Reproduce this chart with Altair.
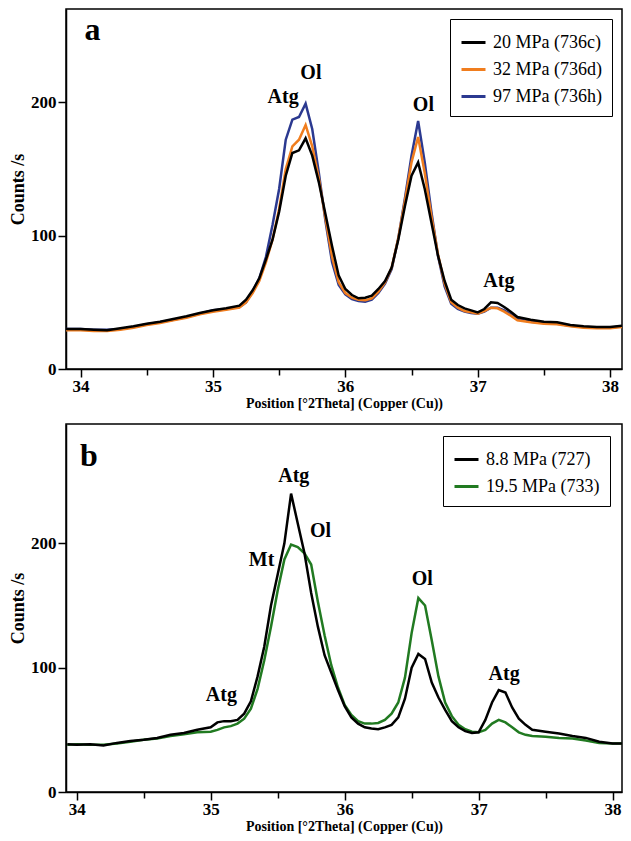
import altair as alt
import pandas as pd

# ---------------- Panel a data ----------------
x_a = [33.89, 34.0, 34.1, 34.2, 34.3, 34.4, 34.5, 34.6, 34.7, 34.8, 34.9, 35.0, 35.1, 35.2,
       35.25, 35.3, 35.35, 35.4, 35.45, 35.5, 35.55, 35.6, 35.65, 35.7, 35.75, 35.8, 35.85,
       35.9, 35.95, 36.0, 36.05, 36.1, 36.15, 36.2, 36.25, 36.3, 36.35, 36.4, 36.45, 36.5,
       36.55, 36.6, 36.65, 36.7, 36.75, 36.8, 36.85, 36.9, 36.95, 37.0, 37.05, 37.1, 37.15,
       37.2, 37.25, 37.3, 37.4, 37.5, 37.6, 37.7, 37.8, 37.9, 38.0, 38.09]
black_a = [30, 30, 29.5, 29, 30.5, 32, 34, 35.5, 37.5, 39.5, 42, 44, 45.5, 47.5,
           52, 59, 68, 82, 97, 118, 145, 162, 164, 173, 160, 140, 116,
           92, 70, 60, 55.5, 53, 53.5, 55, 60, 66, 76, 97, 122, 145,
           155, 135, 110, 85, 66, 52, 48, 45.5, 44, 42.5, 45, 50, 49.5,
           46.5, 43, 39, 37, 35.5, 35, 33, 32, 31.5, 31.5, 32.5]
orange_a = [29, 29, 28.5, 28.5, 29.5, 31, 33, 34.5, 36.5, 38.5, 41, 43, 44.5, 46,
            50, 57, 66, 80, 97, 120, 150, 167, 172, 183, 167, 143, 113,
            84, 65, 57, 53.5, 52, 51.5, 53, 58, 65, 76, 98, 126, 155,
            174, 147, 115, 86, 64, 50, 46, 43.5, 42.5, 41.5, 43.5, 46, 45.5,
            43, 40, 36.5, 35, 34, 33.5, 32, 31, 30.5, 30.5, 31.5]
blue_a = [30, 30, 29.5, 29.5, 30, 31.5, 33.5, 35, 37, 39, 41.5, 44, 45, 46.5,
          50, 58, 68, 84, 108, 135, 172, 187, 189, 199, 180, 147, 111,
          80, 63, 56, 52.5, 51, 50.5, 52, 57, 64, 75, 98, 128, 160,
          186, 155, 118, 85, 62, 49, 45, 43, 42, 41.5, 43, 46, 46,
          44, 41, 37.5, 35.5, 34.5, 34, 32.5, 31.5, 31, 31, 32]

series_a = ["20 MPa (736c)", "32 MPa (736d)", "97 MPa (736h)"]
colors_a = ["#000000", "#F07D1E", "#2B3990"]

ann_a_text = ["Atg", "Ol", "Ol", "Atg"]
ann_a_x = [35.53, 35.74, 36.59, 37.16]
ann_a_y = [204, 222, 198, 66]

# ---------------- Panel b data ----------------
x_b = [33.93, 34.0, 34.1, 34.2, 34.3, 34.4, 34.5, 34.6, 34.7, 34.8, 34.9, 35.0, 35.05, 35.1,
       35.15, 35.2, 35.25, 35.3, 35.35, 35.4, 35.45, 35.5, 35.55, 35.6, 35.65, 35.7, 35.75,
       35.8, 35.85, 35.9, 35.95, 36.0, 36.05, 36.1, 36.15, 36.2, 36.25, 36.3, 36.35, 36.4,
       36.45, 36.5, 36.55, 36.6, 36.65, 36.7, 36.75, 36.8, 36.85, 36.9, 36.95, 37.0, 37.05,
       37.1, 37.15, 37.2, 37.25, 37.3, 37.35, 37.4, 37.5, 37.6, 37.7, 37.8, 37.9, 38.0, 38.07]
black_b = [38.5, 38, 38.5, 37.5, 39.5, 41, 42, 43.5, 46, 47.5, 50, 52, 56, 57,
           57, 58, 63, 73, 93, 117, 150, 175, 200, 240, 216, 192, 160,
           133, 110, 96, 82, 69, 60, 55, 52, 51, 50.5, 52, 54, 60,
           75, 100, 111, 107, 88, 76, 66, 57, 52, 49, 47.5, 48, 58,
           72, 82, 80, 68, 59, 54, 50, 48.5, 47, 45, 43.5, 40.5, 39, 39]
green_b = [38, 38.5, 38, 38, 39, 40.5, 42, 43, 45, 46.5, 48, 48.5, 50, 52,
           53, 55, 59, 67, 83, 106, 133, 162, 187, 199, 197, 192, 183,
           153, 126, 102, 84, 70, 62, 57, 55, 55, 55.5, 58, 63, 72,
           92, 128, 156, 150, 122, 93, 72, 61, 54, 50.5, 48.5, 48, 50,
           55, 58, 56, 52, 48, 46, 45, 44.5, 43.5, 43, 41.5, 39.5, 39, 39]

series_b = ["8.8 MPa (727)", "19.5 MPa (733)"]
colors_b = ["#000000", "#217A21"]

ann_b_text = ["Atg", "Ol", "Mt", "Ol", "Atg", "Atg"]
ann_b_x = [35.62, 35.82, 35.38, 36.58, 37.19, 35.08]
ann_b_y = [254, 210, 187, 171, 95, 78]

letters = ["a", "b"]
letter_x = [34.09, 34.09]
letter_y = [254, 270]

SERIF = "Times New Roman, Liberation Serif, serif"
X_TITLE = "Position [°2Theta] (Copper (Cu))"


def long_df(xs, series_names, ys_list):
    rows = []
    for name, ys in zip(series_names, ys_list):
        for xv, yv in zip(xs, ys):
            rows.append({"x": xv, "y": yv, "series": name})
    return pd.DataFrame(rows)


def panel(df, series, colors, draw_order, xdom, ydom, height, ann, letter, legend_offset):
    x_enc = alt.X(
        "x:Q",
        scale=alt.Scale(domain=xdom, nice=False, zero=False),
        axis=alt.Axis(
            values=[34, 34.5, 35, 35.5, 36, 36.5, 37, 37.5, 38],
            labelExpr="datum.value % 1 === 0 ? format(datum.value, 'd') : ''",
            title=X_TITLE,
            tickSize={"condition": {"test": "datum.value % 1 === 0", "value": 8}, "value": 6},
            labelPadding=1,
            titlePadding=2,
            titleFontSize=14,
            labelFlush=False,
            grid=False,
        ),
    )
    y_enc = alt.Y(
        "y:Q",
        scale=alt.Scale(domain=ydom, nice=False, zero=True),
        axis=alt.Axis(
            values=[0, 100, 200],
            title="Counts /s",
            tickSize=8,
            labelPadding=2,
            titlePadding=3,
            titleFontSize=18,
            grid=False,
        ),
    )
    c_enc = alt.Color(
        "series:N",
        scale=alt.Scale(domain=series, range=colors),
        legend=alt.Legend(
            title=None,
            orient="top-right",
            offset=legend_offset,
            strokeColor="black",
            fillColor="white",
            padding=10,
            symbolType="stroke",
            symbolStrokeWidth=3,
            symbolSize=576,
            labelFont=SERIF,
            labelFontSize=18,
            labelColor="black",
            rowPadding=4,
            labelOffset=6,
            labelLimit=300,
        ),
    )
    layers = []
    for s in draw_order:
        layers.append(
            alt.Chart(df)
            .transform_filter(alt.datum.series == s)
            .mark_line(strokeWidth=2.5, clip=True)
            .encode(x=x_enc, y=y_enc, color=c_enc)
        )
    layers.append(
        alt.Chart(ann)
        .mark_text(font=SERIF, fontWeight="bold", fontSize=20, color="black")
        .encode(x=x_enc, y=y_enc, text="t:N")
    )
    layers.append(
        alt.Chart(letter)
        .mark_text(font=SERIF, fontWeight="bold", fontSize=32, color="black")
        .encode(x=x_enc, y=y_enc, text="t:N")
    )
    return alt.layer(*layers).properties(width=556, height=height)


df_a = long_df(x_a, series_a, [black_a, orange_a, blue_a])
df_b = long_df(x_b, series_b, [black_b, green_b])
ann_a = pd.DataFrame({"x": ann_a_x, "y": ann_a_y, "t": ann_a_text})
ann_b = pd.DataFrame({"x": ann_b_x, "y": ann_b_y, "t": ann_b_text})
let_a = pd.DataFrame({"x": [letter_x[0]], "y": [letter_y[0]], "t": [letters[0]]})
let_b = pd.DataFrame({"x": [letter_x[1]], "y": [letter_y[1]], "t": [letters[1]]})

pa = panel(df_a, series_a, colors_a, [series_a[2], series_a[1], series_a[0]],
           [33.89, 38.09], [0, 270], 360, ann_a, let_a, 10)
pb = panel(df_b, series_b, colors_b, [series_b[1], series_b[0]],
           [33.92, 38.07], [0, 296], 368, ann_b, let_b, 12)

chart = (
    alt.vconcat(pa, pb, spacing=12)
    .resolve_scale(x="independent", y="independent", color="independent")
    .resolve_legend(color="independent")
    .properties(padding=0, background="white")
    .configure_view(stroke="black", strokeWidth=1.5)
    .configure_axis(
        labelFont=SERIF,
        labelFontSize=17,
        labelFontWeight="bold",
        labelColor="black",
        titleFont=SERIF,
        titleFontWeight="bold",
        titleColor="black",
        domainColor="black",
        domainWidth=1.5,
        tickColor="black",
        tickWidth=1.5,
    )
)

chart.save("out.html", embed_options={"renderer": "svg", "actions": False})
